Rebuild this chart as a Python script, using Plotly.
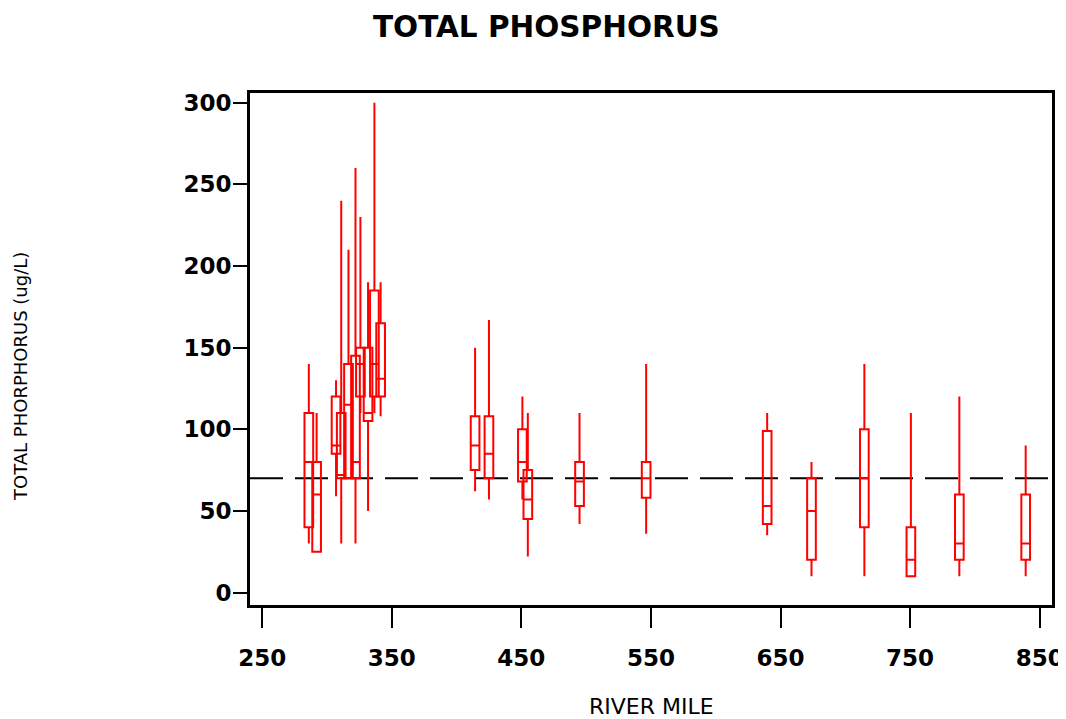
import plotly.graph_objects as go

# River mile of each sampling station
river_mile = [286, 292, 307, 311, 316.6, 322, 325.8, 331.7, 336.6, 341.4,
              414.3, 425, 450.8, 455, 494.9, 546.3, 639.7, 673.9, 714.7,
              750.6, 788, 839.2]
# Box statistics (ug/L)
lower_whisker = [30, 25, 59, 30, 70, 30, 110, 50, 110, 108,
                 62, 57, 57, 22, 42, 36, 35, 10, 10, 10, 10, 10]
q1 = [40, 25, 85, 70, 70, 70, 120, 105, 120, 120,
      75, 70, 68, 45, 53, 58, 42, 20, 40, 10, 20, 20]
median = [80, 60, 90, 72, 115, 80, 140, 110, 140, 131,
          90, 85, 80, 57, 68, 70, 53, 50, 70, 20, 30, 30]
q3 = [110, 80, 120, 110, 140, 145, 150, 150, 185, 165,
      108, 108, 100, 75, 80, 80, 99, 70, 100, 40, 60, 60]
upper_whisker = [140, 110, 130, 240, 210, 260, 230, 190, 300, 190,
                 150, 167, 120, 110, 110, 140, 110, 80, 140, 110, 120, 90]

reference_level = 70
x_ticks = [250, 350, 450, 550, 650, 750, 850]
y_ticks = [0, 50, 100, 150, 200, 250, 300]

# figure is placed at an 8px page offset, so it is sized to fill the rest of the window
W, H = 1058, 711
L, R, T, B = 242, 14, 85, 114
PW, PH = W - L - R, H - T - B

fig = go.Figure()
fig.add_trace(go.Box(
    x=river_mile, q1=q1, median=median, q3=q3,
    lowerfence=lower_whisker, upperfence=upper_whisker,
    width=6.7, whiskerwidth=0,
    line=dict(color="#ff0000", width=2),
    fillcolor="rgba(0,0,0,0)",
    boxpoints=False, showlegend=False,
))

fig.add_hline(y=reference_level, line=dict(color="black", width=2, dash="33px,12px"), layer="below")

tickfont = dict(family="DejaVu Sans", size=23, color="black", weight="bold")
fig.update_layout(
    width=W, height=H,
    margin=dict(l=L, r=R, t=T, b=B),
    paper_bgcolor="white", plot_bgcolor="white",
    xaxis=dict(range=[240.6, 859.5], tickvals=x_ticks, ticks="outside", ticklen=20, tickwidth=2,
               tickcolor="black", showline=True, linewidth=3, linecolor="black", mirror=True,
               showgrid=False, zeroline=False, tickfont=tickfont, ticklabelstandoff=10,
               automargin=False),
    yaxis=dict(range=[-7.66, 306.0], tickvals=y_ticks, ticks="outside", ticklen=14, tickwidth=2,
               tickcolor="black", showline=True, linewidth=3, linecolor="black", mirror=True,
               showgrid=False, zeroline=False, tickfont=tickfont, ticklabelstandoff=-3,
               automargin=False),
    annotations=[
        dict(text="TOTAL PHOSPHORUS", xref="paper", yref="paper", x=(538.5-L)/PW,
             y=(H-B-19)/PH, xanchor="center", yanchor="middle", showarrow=False,
             font=dict(family="DejaVu Sans", size=29.5, color="black", weight="bold")),
        dict(text="RIVER MILE", xref="paper", yref="paper", x=(643-L)/PW, y=(H-B-698)/PH,
             xanchor="center", yanchor="middle", showarrow=False,
             font=dict(family="DejaVu Sans", size=22, color="black")),
        dict(text="TOTAL PHORPHORUS (ug/L)", xref="paper", yref="paper", x=(12-L)/PW,
             y=(H-B-369)/PH, xanchor="center", yanchor="middle", textangle=-90, showarrow=False,
             font=dict(family="DejaVu Sans", size=18, color="black")),
    ],
)

fig.write_html("out.html")
